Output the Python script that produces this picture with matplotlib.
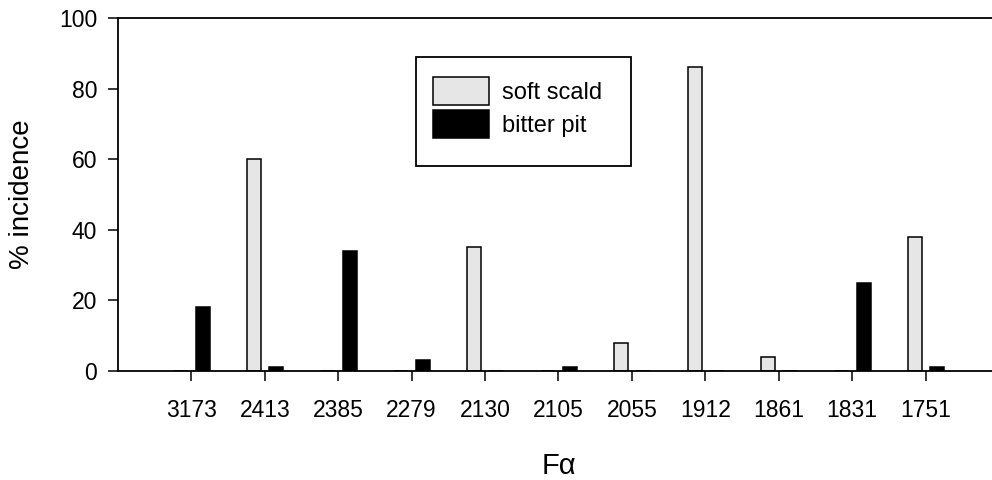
import matplotlib
matplotlib.use("Agg")
import matplotlib.pyplot as plt
import numpy as np
from matplotlib.patches import Rectangle

categories = ["3173", "2413", "2385", "2279", "2130", "2105", "2055", "1912", "1861", "1831", "1751"]
soft_scald = [0, 60, 0, 0, 35, 0, 8, 86, 4, 0, 38]
bitter_pit = [18, 1, 34, 3, 0, 1, 0, 0, 0, 25, 1]

plt.rcParams['font.family'] = ['Liberation Sans', 'DejaVu Sans']

fig = plt.figure(figsize=(9.92, 4.8), dpi=100)
ax = fig.add_axes([118/992, 1-371/480, (999-118)/992, (371-18)/480])

x = np.arange(len(categories))
w = 0.19
ax.bar(x - 0.145, soft_scald, width=w, color='#e6e6e6', edgecolor='black', linewidth=1.1, label='soft scald')
ax.bar(x + 0.155, bitter_pit, width=w, color='black', edgecolor='black', linewidth=1.1, label='bitter pit')

ax.set_xlim(-1, 11)
ax.set_ylim(0, 100)
ax.set_xticks(x)
ax.set_xticklabels(categories)
ax.set_yticks([0, 20, 40, 60, 80, 100])
ax.tick_params(axis='both', labelsize=16.5, direction='out', length=7, width=1.1)
ax.tick_params(axis='x', pad=13)
ax.tick_params(axis='y', pad=8)
for s in ['left', 'bottom', 'top']:
    ax.spines[s].set_linewidth(1.3)
ax.spines['right'].set_visible(False)

ax.set_ylabel('% incidence', fontsize=20, labelpad=17)
ax.set_xlabel('Fα', fontsize=21, labelpad=22)

leg = ax.legend(loc='upper left', bbox_to_anchor=(433/992, 1-77/480), bbox_transform=fig.transFigure,
                frameon=False, fontsize=17, handlelength=2.37, handleheight=1.48,
                labelspacing=0.17, handletextpad=0.55, borderpad=0, borderaxespad=0)
fig.patches.append(Rectangle((416/992, 1-166/480), 215/992, 109/480, transform=fig.transFigure,
                             fill=False, edgecolor='black', linewidth=1.3, zorder=5))

fig.savefig('out.png', dpi=100)
